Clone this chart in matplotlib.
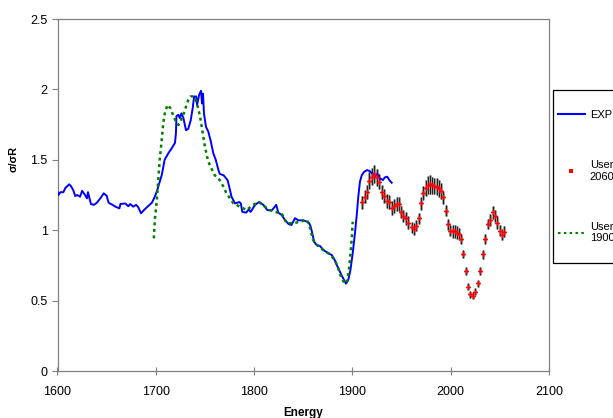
import matplotlib
matplotlib.use("Agg")
import matplotlib.pyplot as plt
from matplotlib.lines import Line2D
from matplotlib.patches import Rectangle

plt.rcParams['font.family'] = ['Liberation Sans', 'DejaVu Sans']

# EXP (blue line)
exp_x = [1600, 1601, 1603, 1606, 1608, 1612, 1614, 1616, 1618, 1620, 1623, 1625, 1628, 1630,
         1631, 1634, 1637, 1640, 1644, 1647, 1650, 1652, 1656, 1659, 1663, 1664, 1669, 1672,
         1674, 1677, 1680, 1682, 1685, 1688, 1692, 1696, 1699, 1701.5, 1703.5, 1706, 1707.6,
         1709, 1712.7, 1716, 1719.5, 1720.5, 1721, 1723, 1724.6, 1726, 1728, 1730.7, 1733,
         1735.5, 1737.5, 1739, 1741, 1742, 1744, 1746, 1747, 1748, 1749, 1751, 1753.4, 1756,
         1758.5, 1761, 1763.6, 1765, 1769, 1773, 1775.5, 1777, 1780.6, 1785, 1786.5, 1788,
         1792, 1794.6, 1796.5, 1801, 1805, 1809.4, 1813.4, 1818, 1821, 1822.5, 1824.6, 1828,
         1831.5, 1835, 1838, 1841.6, 1845, 1850, 1854, 1856, 1857.6, 1859.6, 1861, 1863.7,
         1867, 1870.4, 1875.5, 1879, 1882, 1885.6, 1889, 1891.5, 1893.5, 1895.8, 1898, 1900.3,
         1902.6, 1904.4, 1906, 1907.7, 1909.5, 1912, 1915, 1917.5, 1920.6, 1923, 1925.3, 1928,
         1931, 1933, 1935.5, 1937.5, 1940]
exp_y = [1.27, 1.25, 1.27, 1.27, 1.30, 1.326, 1.31, 1.285, 1.243, 1.25, 1.238, 1.28, 1.25, 1.226,
         1.27, 1.186, 1.18, 1.195, 1.23, 1.262, 1.245, 1.195, 1.18, 1.167, 1.155, 1.186, 1.19, 1.17,
         1.186, 1.167, 1.18, 1.165, 1.12, 1.143, 1.17, 1.195, 1.238, 1.285, 1.333, 1.39, 1.447,
         1.50, 1.546, 1.58, 1.62, 1.69, 1.81, 1.82, 1.795, 1.83, 1.80, 1.71, 1.72,
         1.78, 1.865, 1.95, 1.95, 1.89, 1.96, 1.99, 1.90, 1.97, 1.83, 1.735, 1.70, 1.63,
         1.546, 1.50, 1.43, 1.40, 1.39, 1.356, 1.285, 1.238, 1.19, 1.20, 1.19, 1.13,
         1.125, 1.148, 1.13, 1.18, 1.20, 1.18, 1.143, 1.14, 1.167, 1.18, 1.125, 1.108,
         1.072, 1.044, 1.037, 1.085, 1.07, 1.07, 1.06, 1.05, 1.025, 0.966, 0.918, 0.895,
         0.888, 0.86, 0.836, 0.824, 0.788, 0.73, 0.68, 0.646, 0.62, 0.646, 0.717, 0.836,
         0.978, 1.108, 1.238, 1.345, 1.39, 1.415, 1.427, 1.42, 1.40, 1.385, 1.40, 1.368,
         1.356, 1.375, 1.38, 1.356, 1.337]

# User 2060 (red points with error bars)
u2060_x = [1909.8, 1912.8, 1914.9, 1917.2, 1920.3, 1922.3, 1924.7, 1927.4, 1930.1, 1932.5,
           1934.9, 1937.6, 1940.6, 1942.6, 1945.0, 1947.4, 1949.8, 1951.8, 1954.3, 1956.6,
           1960.3, 1962.7, 1965.0, 1967.8, 1970.1, 1972.1, 1974.9, 1977.0, 1979.0, 1981.0,
           1983.3, 1985.7, 1988.1, 1990.1, 1992.5, 1995.2, 1997.6, 1999.6, 2002.0, 2004.0,
           2006.0, 2008.0, 2010.5, 2012.8, 2015.3, 2017.6, 2020.0, 2022.7, 2025.1, 2027.5,
           2030.1, 2032.6, 2035.2, 2037.7, 2040.0, 2042.7, 2045.0, 2047.4, 2050.2, 2052.5,
           2054.5]
u2060_y = [1.198, 1.238, 1.273, 1.352, 1.38, 1.397, 1.375, 1.345, 1.273, 1.243,
           1.21, 1.203, 1.155, 1.172, 1.186, 1.186, 1.13, 1.10, 1.085, 1.053,
           1.02, 1.008, 1.032, 1.085, 1.19, 1.262, 1.30, 1.32, 1.325, 1.32,
           1.314, 1.31, 1.297, 1.28, 1.233, 1.138, 1.042, 0.996, 0.993, 0.993,
           0.982, 0.973, 0.937, 0.83, 0.712, 0.60, 0.545, 0.533, 0.563, 0.622,
           0.712, 0.828, 0.94, 1.044, 1.072, 1.127, 1.10, 1.053, 0.996, 0.968,
           0.989]
u2060_err = [0.045, 0.045, 0.05, 0.06, 0.06, 0.065, 0.06, 0.055, 0.05, 0.05,
             0.05, 0.05, 0.05, 0.05, 0.05, 0.05, 0.045, 0.045, 0.045, 0.045,
             0.04, 0.04, 0.04, 0.04, 0.045, 0.05, 0.06, 0.065, 0.065, 0.06,
             0.06, 0.06, 0.06, 0.055, 0.045, 0.04, 0.04, 0.04, 0.045, 0.045,
             0.045, 0.04, 0.035, 0.03, 0.03, 0.025, 0.025, 0.025, 0.025, 0.025,
             0.03, 0.03, 0.035, 0.035, 0.04, 0.045, 0.045, 0.045, 0.04, 0.04,
             0.04]

# User 1900 (green dotted)
u1900_x = [1698, 1699, 1701, 1702.5, 1704, 1706, 1707.6, 1709.4, 1712, 1715, 1718, 1720.5,
           1723, 1725, 1728, 1730.7, 1733, 1735.5, 1739, 1741.6, 1743, 1745, 1746.7, 1748.3,
           1750, 1751.8, 1753.4, 1756, 1760, 1765, 1768.7, 1772, 1775.5, 1779, 1785.6, 1792.5,
           1799, 1805, 1811, 1816, 1821, 1828, 1833, 1840, 1847, 1853.5, 1856, 1860, 1864,
           1870, 1877, 1882, 1885.6, 1889, 1892.5, 1895, 1897, 1898.4, 1899.5, 1900.3]
u1900_y = [0.942, 1.072, 1.21, 1.356, 1.50, 1.64, 1.76, 1.84, 1.89, 1.865, 1.81, 1.77,
           1.747, 1.77, 1.82, 1.877, 1.925, 1.95, 1.95, 1.91, 1.865, 1.81, 1.735, 1.665,
           1.593, 1.534, 1.487, 1.447, 1.39, 1.356, 1.31, 1.26, 1.226, 1.19, 1.167, 1.143,
           1.18, 1.20, 1.167, 1.143, 1.13, 1.12, 1.05, 1.05, 1.06, 1.075, 1.04, 0.93, 0.895,
           0.86, 0.83, 0.788, 0.73, 0.658, 0.62, 0.646, 0.753, 0.86, 0.954, 1.06]

x_ticks = [1600, 1700, 1800, 1900, 2000, 2100]
y_ticks = [0, 0.5, 1, 1.5, 2, 2.5]
y_tick_labels = ['0', '0.5', '1', '1.5', '2', '2.5']

W, H = 613, 418
fig = plt.figure(figsize=(W / 100, H / 100), dpi=100)
fig.patch.set_facecolor('white')
ax = fig.add_axes([57.5 / W, 1 - 371 / H, (549 - 57.5) / W, (371 - 19) / H])

ax.plot(exp_x, exp_y, color='#0000FF', lw=1.4, zorder=3)
ax.errorbar(u2060_x, u2060_y, yerr=u2060_err, fmt='none', ecolor='#A0A0A0',
            elinewidth=2.2, capsize=0, zorder=2)
ax.errorbar(u2060_x, u2060_y, yerr=u2060_err, fmt='none', ecolor='#202020',
            elinewidth=0.7, capsize=0, zorder=2)
ax.plot(u2060_x, u2060_y, linestyle='none', marker='P', markersize=3.5,
        color='#FF0000', markeredgewidth=0, zorder=4)
ax.plot(u1900_x, u1900_y, color='#008000', lw=1.8, linestyle=(0, (1.2, 1.4)), zorder=3)

ax.set_xlim(1600, 2100)
ax.set_ylim(0, 2.5)
ax.set_xticks(x_ticks)
ax.set_yticks(y_ticks)
ax.set_yticklabels(y_tick_labels)
ax.tick_params(axis='x', direction='inout', length=6, width=0.8, color='#808080',
               labelsize=9, pad=8)
ax.tick_params(axis='y', direction='out', length=4, width=0.8, color='#808080',
               labelsize=9, pad=3)
for s in ax.spines.values():
    s.set_color('#808080')
    s.set_linewidth(0.9)

ax.set_xlabel('Energy', fontsize=8.5, fontweight='bold', labelpad=6)
ax.set_ylabel('σ/σR', fontsize=8, fontweight='bold')
ax.yaxis.set_label_coords(-0.08, 0.602)

# legend frame (Excel-style box, running off the right edge)
fig.add_artist(Rectangle((552.7 / W, 1 - 263 / H), 100 / W, (263 - 90) / H,
                         transform=fig.transFigure, facecolor='white',
                         edgecolor='#000000', lw=0.9, zorder=1))

handles = [
    Line2D([], [], color='#0000FF', lw=1.5),
    Line2D([], [], linestyle='none', marker='s', markersize=2.5, color='#FF0000',
           markeredgewidth=0),
    Line2D([], [], color='#008000', lw=1.5, linestyle=(0, (1.2, 1.6))),
]
labels = ['EXP', 'User\n2060', 'User\n1900']
leg = fig.legend(handles, labels, loc='upper left',
                 bbox_to_anchor=(558 / W, 1 - 110 / H), fontsize=8,
                 frameon=False, borderpad=0, labelspacing=3.6, handlelength=2.4,
                 handletextpad=0.45, borderaxespad=0)
leg.set_zorder(5)

fig.savefig('out.png', dpi=100)
